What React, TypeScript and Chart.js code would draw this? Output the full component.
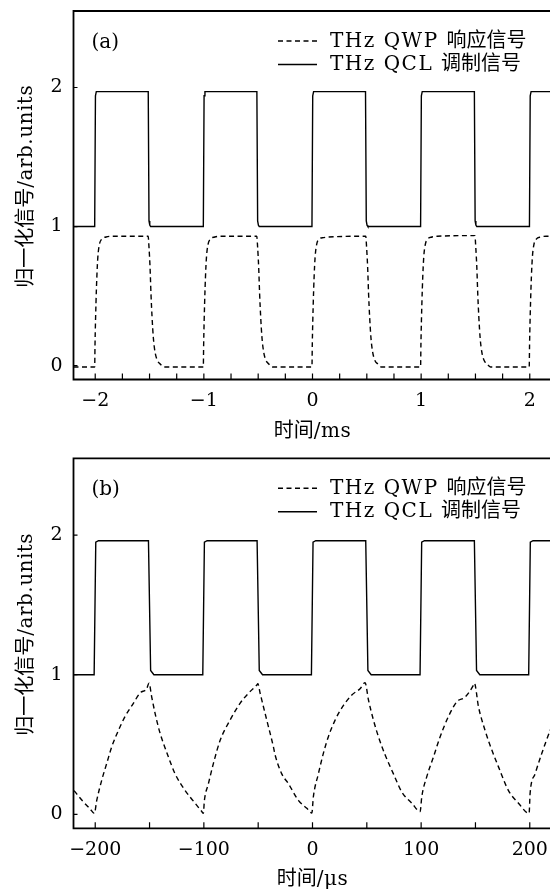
import React, { useEffect, useRef } from "react";
import { Chart, registerables } from "chart.js";

Chart.register(...registerables);

// ---------- Panel (a): time in ms ----------
const aQclTime = [-2.2, -2.005, -1.998, -1.99, -1.512, -1.505, -1.498, -1.49,
  -1.005, -0.998, -0.99, -0.512, -0.505, -0.498, -0.49,
  -0.005, 0.002, 0.01, 0.488, 0.495, 0.502, 0.51,
  0.995, 1.002, 1.01, 1.49, 1.497, 1.504, 1.512,
  1.997, 2.004, 2.012, 2.2];
const aQclValue = [1.0, 1.0, 1.94, 1.97, 1.97, 1.04, 1.01, 1.0,
  1.0, 1.94, 1.97, 1.97, 1.04, 1.01, 1.0,
  1.0, 1.94, 1.97, 1.97, 1.04, 1.01, 1.0,
  1.0, 1.94, 1.97, 1.97, 1.04, 1.01, 1.0,
  1.0, 1.94, 1.97, 1.97];

const aQwpTime = [
  -2.2, -2.1, -2.005, -2.002, -1.993, -1.985, -1.976, -1.962, -1.94, -1.9, -1.85, -1.513, -1.505, -1.495, -1.487, -1.477, -1.465, -1.45, -1.43, -1.4, -1.37, -1.2,
  -1.005, -1.002, -0.993, -0.985, -0.976, -0.962, -0.94, -0.9, -0.85, -0.513, -0.505, -0.495, -0.487, -0.477, -0.465, -0.45, -0.43, -0.4, -0.37, -0.2,
  -0.005, -0.002, 0.007, 0.015, 0.024, 0.038, 0.06, 0.1, 0.15, 0.49, 0.498, 0.508, 0.516, 0.526, 0.538, 0.553, 0.573, 0.603, 0.633, 0.8,
  0.995, 0.998, 1.007, 1.015, 1.024, 1.038, 1.06, 1.1, 1.15, 1.495, 1.503, 1.513, 1.521, 1.531, 1.543, 1.558, 1.578, 1.608, 1.638, 1.8,
  1.995, 1.998, 2.007, 2.015, 2.024, 2.038, 2.06, 2.1, 2.15, 2.2,
];
const aQwpValue = [
  -0.01, -0.01, -0.01, 0.15, 0.45, 0.64, 0.78, 0.87, 0.91, 0.925, 0.93, 0.93, 0.85, 0.7, 0.52, 0.35, 0.2, 0.1, 0.04, 0.01, -0.01, -0.01,
  -0.01, 0.15, 0.45, 0.64, 0.78, 0.87, 0.91, 0.925, 0.93, 0.93, 0.85, 0.7, 0.52, 0.35, 0.2, 0.1, 0.04, 0.01, -0.01, -0.01,
  -0.01, 0.15, 0.45, 0.64, 0.78, 0.87, 0.91, 0.92, 0.925, 0.93, 0.85, 0.7, 0.52, 0.35, 0.2, 0.1, 0.04, 0.01, -0.01, -0.01,
  -0.01, 0.15, 0.45, 0.64, 0.78, 0.87, 0.91, 0.925, 0.93, 0.935, 0.85, 0.7, 0.52, 0.35, 0.2, 0.1, 0.04, 0.01, -0.01, -0.01,
  -0.01, 0.15, 0.45, 0.64, 0.78, 0.87, 0.91, 0.925, 0.93, 0.93,
];

// ---------- Panel (b): time in μs ----------
const bQclTime = [-220, -201, -199.5, -197, -151, -149, -146,
  -101, -99.5, -97, -51, -49, -46,
  -1, 0.5, 3, 49, 51, 54,
  99, 100.5, 103, 149, 151, 154,
  199, 200.5, 203, 220];
const bQclValue = [1.0, 1.0, 1.95, 1.96, 1.96, 1.03, 1.0,
  1.0, 1.95, 1.96, 1.96, 1.03, 1.0,
  1.0, 1.95, 1.96, 1.96, 1.03, 1.0,
  1.0, 1.95, 1.96, 1.96, 1.03, 1.0,
  1.0, 1.95, 1.96, 1.96];

const bQwpTime = [
  -219.5, -211, -204.8, -200.8,
  -198.6, -194, -189.4, -184.8, -178.7, -172.6, -164.9, -158.7, -152.6, -150.5,
  -148, -144.8, -141, -137.3, -132.6, -126.5, -117.2, -108.1, -101.9, -100.5,
  -99.5, -95.8, -91.2, -85, -75.9, -66.7, -59, -51.3, -50.3,
  -48.2, -42.1, -36, -34.4, -28.3, -22.2, -13, -5.2, -0.6,
  0.8, 5.4, 10, 14.6, 20.8, 28.5, 36.2, 43.8, 48.4,
  51.5, 56.1, 60.7, 66.9, 74.5, 82.2, 91.4, 99.1,
  100.6, 105.2, 111.3, 117.5, 125.1, 132.9, 140.5, 148.2, 149,
  152.8, 158.9, 165.1, 171.2, 180.4, 189.6, 199.4,
  200.3, 204.9, 211.1, 218.8, 220,
];
const bQwpValue = [
  0.17, 0.09, 0.04, 0.007,
  0.1, 0.245, 0.365, 0.484, 0.6, 0.7, 0.795, 0.87, 0.9, 0.94,
  0.84, 0.72, 0.6, 0.51, 0.41, 0.29, 0.17, 0.08, 0.02, 0.007,
  0.1, 0.22, 0.365, 0.53, 0.675, 0.795, 0.867, 0.926, 0.935,
  0.867, 0.675, 0.484, 0.425, 0.29, 0.22, 0.1, 0.043, 0.01,
  0.126, 0.29, 0.437, 0.556, 0.675, 0.78, 0.855, 0.9, 0.943,
  0.82, 0.675, 0.556, 0.425, 0.29, 0.16, 0.08, 0.02,
  0.126, 0.27, 0.41, 0.556, 0.7, 0.807, 0.84, 0.926, 0.94,
  0.77, 0.6, 0.46, 0.34, 0.17, 0.08, 0.007,
  0.15, 0.29, 0.437, 0.6, 0.62,
];

// ---------- axes / text ----------
const aXTicks = [-2, -1.75, -1.5, -1.25, -1, -0.75, -0.5, -0.25, 0, 0.25, 0.5, 0.75, 1, 1.25, 1.5, 1.75, 2];
const aXLabels = [-2, -1, 0, 1, 2];
const bXTicks = [-200, -150, -100, -50, 0, 50, 100, 150, 200];
const bXLabels = [-200, -100, 0, 100, 200];
const yTicks = [0, 1, 2];
const legendLabels = ["THz QWP 响应信号", "THz QCL 调制信号"];
const panelLabels = ["(a)", "(b)"];
const xTitles = ["时间/ms", "时间/μs"];
const yTitle = "归一化信号/arb.units";

const LATIN = '"DejaVu Serif", serif';
const CJK = '"Noto Sans CJK SC", sans-serif';

function splitRuns(text: string) {
  const out: { t: string; cjk: boolean }[] = [];
  for (const ch of text) {
    const c = /[\u2e80-\u9fff\u3000-\u303f\uff00-\uffef]/.test(ch);
    if (out.length && out[out.length - 1].cjk === c) out[out.length - 1].t += ch;
    else out.push({ t: ch, cjk: c });
  }
  return out;
}

function drawMixed(ctx: CanvasRenderingContext2D, text: string, x: number, y: number, align: string, latinSize: number, cjkSize: number, spacing: number) {
  const rs = splitRuns(text);
  const setFont = (cjk: boolean) => {
    ctx.font = cjk ? `${cjkSize}px ${CJK}` : `${latinSize}px ${LATIN}`;
    (ctx as any).letterSpacing = cjk ? "0px" : `${spacing}px`;
  };
  const widths = rs.map((r) => { setFont(r.cjk); return ctx.measureText(r.t).width; });
  const total = widths.reduce((s, w) => s + w, 0);
  let cx = align === "center" ? x - total / 2 : x;
  ctx.textAlign = "left";
  ctx.textBaseline = "alphabetic";
  rs.forEach((r, i) => { setFont(r.cjk); ctx.fillText(r.t, cx, y); cx += widths[i]; });
  (ctx as any).letterSpacing = "0px";
}

const minus = (v: number) => (v < 0 ? "\u2212" + Math.abs(v) : String(v));

function makeDecor(panel: number) {
  return {
    id: "decor" + panel,
    afterDraw(chart: any) {
      const { ctx, chartArea: a, scales } = chart;
      const xs = scales.x, ys = scales.y;
      ctx.save();
      ctx.strokeStyle = "#000";
      ctx.fillStyle = "#000";
      ctx.lineWidth = 1.8;
      ctx.setLineDash([]);
      ctx.beginPath();
      ctx.moveTo(a.right + 5, a.top);
      ctx.lineTo(a.left, a.top);
      ctx.lineTo(a.left, a.bottom);
      ctx.lineTo(a.right + 5, a.bottom);
      ctx.stroke();
      ctx.lineWidth = 1.2;
      ctx.beginPath();
      xs.ticks.forEach((t: any) => {
        const px = xs.getPixelForValue(t.value);
        ctx.moveTo(px, a.bottom);
        ctx.lineTo(px, a.bottom - 6);
      });
      ys.ticks.forEach((t: any) => {
        const py = ys.getPixelForValue(t.value);
        ctx.moveTo(a.left, py);
        ctx.lineTo(a.left + 4, py);
      });
      ctx.stroke();

      // panel label
      drawMixed(ctx, panelLabels[panel], a.left + 18, a.top + 37, "left", 20, 20, 0);

      // legend
      const ds = chart.data.datasets;
      [0, 1].forEach((i) => {
        const yy = a.top + 30 + i * 23.5;
        ctx.save();
        ctx.lineWidth = 1.4;
        ctx.setLineDash(ds[i].borderDash || []);
        ctx.beginPath();
        ctx.moveTo(a.left + 204.5, yy);
        ctx.lineTo(a.left + 243.5, yy);
        ctx.stroke();
        ctx.restore();
        drawMixed(ctx, legendLabels[i], a.left + 256.5, yy + 5.5, "left", 20, 20, 1.5);
      });

      // x title
      drawMixed(ctx, xTitles[panel], (a.left + a.right) / 2, a.bottom + 57, "center", 20, 20, 0.5);

      // y title
      ctx.save();
      ctx.translate(31.5, (a.top + a.bottom) / 2 - 9);
      ctx.rotate(-Math.PI / 2);
      drawMixed(ctx, yTitle, 0, 0, "center", 20, 20, 0.5);
      ctx.restore();
      ctx.restore();
    },
  };
}

type PanelCfg = {
  panel: number;
  qclT: number[]; qclV: number[]; qwpT: number[]; qwpV: number[];
  xMin: number; xMax: number; xTicks: number[]; xLabels: number[];
  padTop: number; xHeight: number;
};

function Panel({ cfg }: { cfg: PanelCfg }) {
  const ref = useRef<HTMLCanvasElement>(null);
  useEffect(() => {
    const tickFont = { family: "DejaVu Serif", size: 19 };
    const chart = new Chart(ref.current as HTMLCanvasElement, {
      type: "line",
      data: {
        datasets: [
          {
            label: legendLabels[0],
            data: cfg.qwpT.map((t, i) => ({ x: t, y: cfg.qwpV[i] })),
            borderColor: "#000",
            borderWidth: 1.4,
            borderDash: [5, 3.5],
            pointRadius: 0,
            fill: false,
            cubicInterpolationMode: "monotone",
          },
          {
            label: legendLabels[1],
            data: cfg.qclT.map((t, i) => ({ x: t, y: cfg.qclV[i] })),
            borderColor: "#000",
            borderWidth: 1.4,
            pointRadius: 0,
            fill: false,
            tension: 0,
          },
        ],
      } as any,
      options: {
        responsive: false,
        animation: false,
        devicePixelRatio: 1,
        layout: { padding: { left: 0, right: 0.5, top: cfg.padTop, bottom: 0 } },
        plugins: { legend: { display: false }, tooltip: { enabled: false } },
        scales: {
          x: {
            type: "linear",
            min: cfg.xMin,
            max: cfg.xMax,
            grid: { display: false, drawTicks: false },
            border: { display: false },
            afterBuildTicks: (s: any) => { s.ticks = cfg.xTicks.map((v) => ({ value: v })); },
            afterFit: (s: any) => { s.height = cfg.xHeight; s.paddingLeft = 0; s.paddingRight = 0; },
            ticks: {
              autoSkip: false,
              maxRotation: 0,
              padding: 10,
              color: "#000",
              font: tickFont,
              callback: (v: any) => (cfg.xLabels.includes(Number(v)) ? minus(Number(v)) : ""),
            },
          },
          y: {
            type: "linear",
            min: -0.1,
            max: 2.55,
            grid: { display: false, drawTicks: false },
            border: { display: false },
            afterBuildTicks: (s: any) => { s.ticks = yTicks.map((v) => ({ value: v })); },
            afterFit: (s: any) => { s.width = 73.5; s.paddingTop = 0; s.paddingBottom = 0; },
            ticks: {
              padding: 11,
              color: "#000",
              font: tickFont,
              callback: (v: any) => minus(Number(v)),
            },
          },
        },
      } as any,
      plugins: [makeDecor(cfg.panel)],
    });
    return () => chart.destroy();
  }, []);
  return (
    <div style={{ width: 550, height: 445, overflow: "hidden", position: "relative" }}>
      <canvas ref={ref} width={552} height={445} style={{ display: "block", width: 552, height: 445 }} />
    </div>
  );
}

export default function App() {
  const a: PanelCfg = {
    panel: 0, qclT: aQclTime, qclV: aQclValue, qwpT: aQwpTime, qwpV: aQwpValue,
    xMin: -2.2, xMax: 2.2, xTicks: aXTicks, xLabels: aXLabels, padTop: 11, xHeight: 65.5,
  };
  const b: PanelCfg = {
    panel: 1, qclT: bQclTime, qclV: bQclValue, qwpT: bQwpTime, qwpV: bQwpValue,
    xMin: -220, xMax: 220, xTicks: bXTicks, xLabels: bXLabels, padTop: 13.3, xHeight: 61.7,
  };
  return (
    <div style={{ position: "absolute", left: 0, top: 0, width: 550, height: 890, overflow: "hidden", background: "#fff" }}>
      <Panel cfg={a} />
      <Panel cfg={b} />
    </div>
  );
}
